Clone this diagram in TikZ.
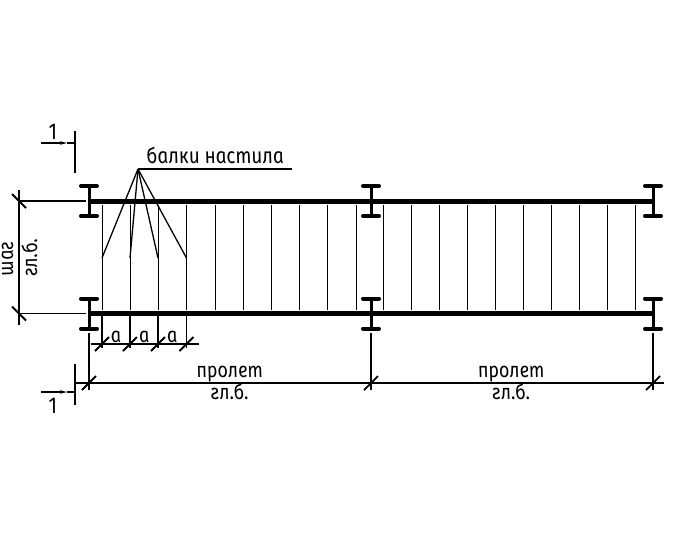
\documentclass[tikz,border=0pt]{standalone}
\usepackage{fontspec}
\usetikzlibrary{arrows.meta}
\newfontfamily\cadfont[FakeStretch=0.86,ItalicFeatures={FakeSlant=-0.15}]{Fira Sans}
\tikzset{
  beamline/.style={line width=1mm},
  thinline/.style={line width=0.22mm},
  dimline/.style={line width=0.26mm},
  tickline/.style={line width=0.36mm},
  flangeline/.style={line width=0.8mm,line cap=round},
  webline/.style={line width=0.6mm},
  cutline/.style={line width=0.45mm},
  cuttext/.style={font=\cadfont\itshape\fontsize{12}{12}\selectfont,inner sep=0pt},
  leadertext/.style={font=\cadfont\itshape\fontsize{12.5}{12.5}\selectfont,inner sep=0pt},
  numtext/.style={font=\cadfont\fontsize{13}{13}\selectfont,inner sep=0pt}
}
\begin{document}
\begin{tikzpicture}[x=0.02cm,y=-0.02cm]
\useasboundingbox (0,0) rectangle (678,542);
% main beams
\foreach \y/\name in {201/top,313.5/bot}{
  \coordinate (\name L) at (89,\y);
  \coordinate (\name R) at (653,\y);
  \draw[beamline] (\name L)--(\name R);
  \foreach \x in {89,371,653}{
    \draw[webline] (\x,\y-15)--(\x,\y+15);
    \draw[flangeline] (\x-8,\y-15)--(\x+8,\y-15);
    \draw[flangeline] (\x-8,\y+15)--(\x+8,\y+15);
  }
}
% joists
\foreach \x in {0,...,9}{
  \draw[thinline] (102.3+28.2*\x,205)--(102.3+28.2*\x,310);
  \draw[thinline] (383.3+28.06*\x,205)--(383.3+28.06*\x,310);
}
% leader
\coordinate (apex) at (138,169);
\coordinate (leaderend) at (292,169);
\draw[dimline] (apex)--(leaderend);
\foreach \x/\name in {102/a,130/b,158/c,186.5/d}{
  \coordinate (foot\name) at (\x,258);
  \draw[dimline] (apex)--(foot\name);
}
\node[leadertext,anchor=base west] (balki) at (147,163) {балки настила};
% section marks
\coordinate (cutA) at (75,131);
\coordinate (cutB) at (75,173);
\coordinate (cutC) at (75,364);
\coordinate (cutD) at (75,405);
\coordinate (cutAe) at (41,143);
\coordinate (cutAm) at (67,143);
\coordinate (cutAa) at (75,143);
\coordinate (cutCe) at (41,392);
\coordinate (cutCm) at (67,392);
\coordinate (cutCa) at (75,392);
\draw[cutline] (cutA)--(cutB);
\draw[cutline] (cutC)--(cutD);
\draw[dimline,-{Stealth[length=4pt,width=2pt]}] (cutAe)--(cutAm);
\draw[dimline] (cutAm)--(cutAa);
\draw[dimline,-{Stealth[length=4pt,width=2pt]}] (cutCe)--(cutCm);
\draw[dimline] (cutCm)--(cutCa);
\node[numtext] (numA) at (53,132) {1};
\node[numtext] (numB) at (53,405.5) {1};
% left dimension
\coordinate (leftA) at (19,190);
\coordinate (leftB) at (19,325);
\coordinate (extA) at (19,201);
\coordinate (extB) at (19,313.5);
\draw[dimline] (leftA)--(leftB);
\draw[dimline] (extA)--(86,201);
\draw[dimline] (extB)--(86,313.5);
\foreach \y in {201,313.5}
  \draw[tickline] (12,\y-7)--(26,\y+7);
\node[cuttext,rotate=90,anchor=base] (shag) at (13,258) {шаг};
\node[cuttext,rotate=90,anchor=base] (glA) at (37,257) {гл.б.};
% small dimension
\coordinate (smallA) at (91,344);
\coordinate (smallB) at (199,344);
\draw[dimline] (smallA)--(smallB);
\foreach \x in {102,130,158,186.5}{
  \draw[tickline] (\x,316)--(\x,348);
  \draw[tickline] (\x-7,344+7)--(\x+7,344-7);
}
\foreach \x/\name in {116.7/a,145/b,173/c}
  \node[cuttext,anchor=base] (step\name) at (\x,342) {а};
% span dimension
\coordinate (spanA) at (75,383);
\coordinate (spanB) at (664,383);
\draw[dimline] (spanA)--(spanB);
\foreach \x in {89,371,653}{
  \draw[dimline] (\x,333)--(\x,390);
  \draw[tickline] (\x-7,383+7)--(\x+7,383-7);
}
\node[cuttext,anchor=base] (spanC) at (230.5,377) {пролет};
\node[cuttext,anchor=base] (spanD) at (230.5,399) {гл.б.};
\node[cuttext,anchor=base] (spanE) at (512,377) {пролет};
\node[cuttext,anchor=base] (spanF) at (512,399) {гл.б.};
\end{tikzpicture}
\end{document}
